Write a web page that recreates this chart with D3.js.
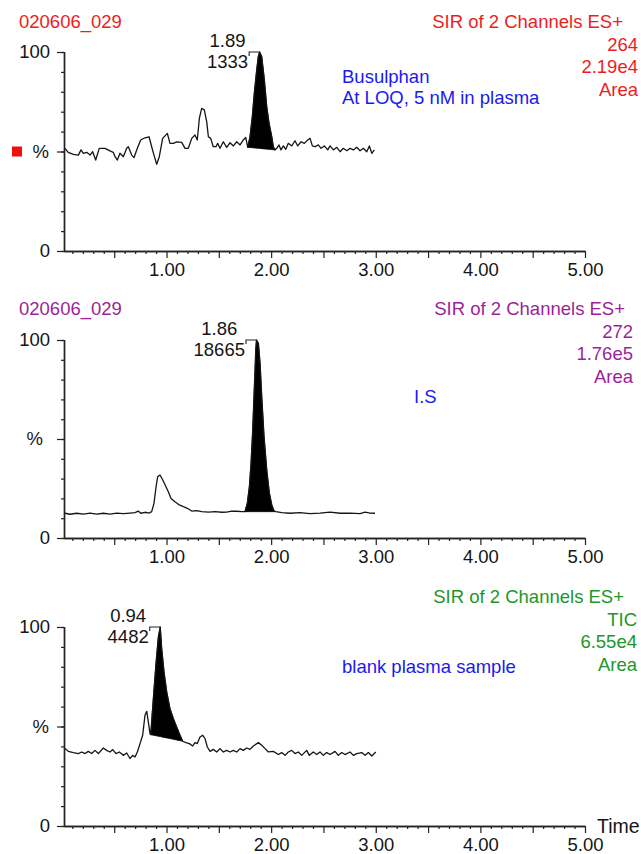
<!DOCTYPE html>
<html>
<head>
<meta charset="utf-8">
<script src="https://cdn.jsdelivr.net/npm/d3@7"></script>
<style>
  body { margin: 0; background: #fff; }
  svg { display: block; }
  text { font-family: "Liberation Sans", Arial, sans-serif; }
</style>
</head>
<body>
<svg id="chart" width="641" height="854"></svg>
<script>
// ---- Chromatogram traces: [retention time (min), relative intensity (%)] ----
const busulphanTrace = [
  [0.03,51.6],[0.06,49.6],[0.11,48.6],[0.157,48.2],[0.183,50.8],[0.205,49.1],[0.237,49.6],[0.269,48.2],
  [0.294,49.9],[0.323,45.7],[0.357,51.6],[0.412,51.6],[0.46,50.3],[0.491,49.6],[0.508,47.4],[0.53,45.7],
  [0.555,49.1],[0.587,47.4],[0.619,51.6],[0.635,52.4],[0.667,48.2],[0.689,46.9],[0.721,51.6],[0.753,55.8],
  [0.794,56.9],[0.833,57.4],[0.858,52.4],[0.88,48.2],[0.906,43.6],[0.931,47.4],[0.963,56.6],[1.008,59.1],
  [1.033,54.1],[1.065,54.1],[1.097,54.8],[1.145,54.6],[1.177,51.6],[1.208,51.6],[1.241,56.6],[1.272,58.3],
  [1.294,55.8],[1.314,66.7],[1.336,71.7],[1.361,70.9],[1.384,65.0],[1.4,57.4],[1.422,56.6],[1.447,52.4],
  [1.473,52.4],[1.489,54.1],[1.511,51.6],[1.543,54.9],[1.575,52.1],[1.607,54.4],[1.639,52.8],[1.671,54.9],
  [1.703,53.3],[1.734,55.8],[1.757,57.1],[1.776,52.1],[1.798,57.4],[1.82,67.5],[1.839,79.2],[1.862,91.0],
  [1.877,97.6],[1.89,100],[1.91,97.6],[1.935,86],[1.958,72.5],[1.98,64.2],[2.006,57.4],[2.021,52.4],
  [2.037,50.8],[2.053,51.6],[2.075,53.3],[2.094,50.8],[2.117,52.8],[2.14,51.1],[2.164,54.1],[2.197,52.8],
  [2.228,55.4],[2.254,52.8],[2.286,54.9],[2.317,54.1],[2.35,55.8],[2.372,56.6],[2.394,52.8],[2.42,52.4],
  [2.451,53.3],[2.477,51.6],[2.509,52.8],[2.541,50.8],[2.563,52.8],[2.595,50.8],[2.627,52.1],[2.659,49.9],
  [2.69,51.6],[2.723,50.4],[2.754,51.6],[2.786,50.8],[2.818,52.1],[2.85,50.4],[2.881,51.6],[2.914,49.9],
  [2.939,52.8],[2.962,49.1],[2.987,50.8]
];

const internalStdTrace = [
  [0.03,12.5],[0.077,12],[0.141,12.5],[0.205,12.1],[0.269,12.6],[0.333,12.1],[0.396,12.5],[0.46,12.1],
  [0.524,12.6],[0.587,12.3],[0.651,12.6],[0.699,12.8],[0.73,13.6],[0.753,12.5],[0.794,13],[0.836,12.6],
  [0.858,13.3],[0.88,17.5],[0.9,25.9],[0.916,31],[0.938,31.8],[0.964,29.3],[0.995,25.9],[1.017,23.4],
  [1.043,20],[1.081,18.3],[1.122,16.7],[1.161,15.8],[1.199,15],[1.241,13.6],[1.289,13.8],[1.336,13.3],
  [1.4,13.1],[1.464,13.3],[1.528,13],[1.575,13.1],[1.623,13.6],[1.671,13.5],[1.719,13.3],[1.75,13.3],
  [1.772,17.5],[1.792,25.9],[1.808,37.7],[1.824,54.5],[1.836,71.4],[1.846,84.8],[1.853,94.9],[1.86,100],
  [1.878,98.3],[1.894,88.2],[1.91,71.4],[1.932,51.2],[1.958,34.3],[1.983,22.6],[2.006,16.7],[2.028,13.6],
  [2.047,13.3],[2.101,12.8],[2.181,12.5],[2.276,12.8],[2.372,12.3],[2.467,12.6],[2.563,13.1],[2.659,12.5],
  [2.754,12.6],[2.85,12.3],[2.898,13.1],[2.945,12.6],[2.993,12.5]
];

const blankTrace = [
  [0.03,38.9],[0.061,37.5],[0.109,36.9],[0.157,36.4],[0.189,37.2],[0.221,36.4],[0.252,37.5],[0.285,36.4],
  [0.316,38],[0.348,36.4],[0.396,39.2],[0.428,38],[0.46,37.2],[0.486,38.4],[0.517,36.4],[0.549,37.2],
  [0.587,35.5],[0.619,36.7],[0.651,33.9],[0.677,35.5],[0.699,34.7],[0.721,37.2],[0.747,41.4],[0.772,45.6],
  [0.794,55.6],[0.811,57.6],[0.826,52.3],[0.842,46.4],[0.849,45.9],[0.874,64],[0.9,82],[0.922,95],
  [0.94,100],[0.954,89.1],[0.976,77.4],[1.002,67.3],[1.033,59],[1.065,54],[1.097,49.7],[1.129,45.6],
  [1.155,42.6],[1.186,41.9],[1.218,41.4],[1.25,40.2],[1.272,41.9],[1.294,41.4],[1.32,44.7],[1.346,45.6],
  [1.368,43.9],[1.39,39.7],[1.416,37.5],[1.447,38.5],[1.48,37.2],[1.511,38.9],[1.543,37.2],[1.575,38],
  [1.607,37.2],[1.639,38],[1.671,37.2],[1.703,38.9],[1.734,38],[1.767,39.2],[1.798,38.5],[1.83,40.2],
  [1.878,41.9],[1.91,40.6],[1.942,38.9],[1.973,37.2],[2.021,37.5],[2.069,35.9],[2.101,36.9],[2.133,35.5],
  [2.164,37.2],[2.197,38],[2.228,36.4],[2.26,37.2],[2.292,35.5],[2.34,38],[2.365,35.5],[2.403,37.2],
  [2.436,35.9],[2.467,37.2],[2.499,35.5],[2.531,36.9],[2.563,35.9],[2.611,37.5],[2.642,35.5],[2.675,36.9],
  [2.706,35.9],[2.754,37.2],[2.786,35.5],[2.818,36.4],[2.866,36.9],[2.898,35.5],[2.929,36.9],[2.962,35.2],
  [3.0,37.2]
];

// ---- Integrated peaks: [start time, end time] and apex annotation ----
const busulphanPeak = { range: [1.776, 2.037], apex: 1.89, labels: ["1.89", "1333"] };
const internalStdPeak = { range: [1.75, 2.047], apex: 1.86, labels: ["1.86", "18665"] };
const blankPeak = { range: [0.849, 1.155], apex: 0.94, labels: ["0.94", "4482"] };

// ---- Header texts ----
const sampleName = "020606_029";
const channelTitle = "SIR of 2 Channels ES+";
const busulphanInfo = ["264", "2.19e4", "Area"];
const internalStdInfo = ["272", "1.76e5", "Area"];
const blankInfo = ["TIC", "6.55e4", "Area"];
const busulphanNote = ["Busulphan", "At LOQ, 5 nM in plasma"];
const internalStdNote = ["I.S"];
const blankNote = ["blank plasma sample"];

// ---- Axis tick labels ----
const xTickLabels = ["1.00", "2.00", "3.00", "4.00", "5.00"];
const yTickLabels = ["0", "100"];

const FONT = 18.5;
const INK = "#151515";
const BLUE = "#1a1af0";

const panels = [
  { trace: busulphanTrace, peak: busulphanPeak, top: 52, bottom: 251, color: "#ee1c1c",
    sample: true, info: busulphanInfo, headerRight: 623, infoRight: 638, headerBase: 28,
    note: busulphanNote, noteX: 342, noteBase: 83, pctX: 49, marker: true },
  { trace: internalStdTrace, peak: internalStdPeak, top: 340, bottom: 538, color: "#9c1f98",
    sample: true, info: internalStdInfo, headerRight: 625, infoRight: 633, headerBase: 315,
    note: internalStdNote, noteX: 414, noteBase: 403, pctX: 43, marker: false },
  { trace: blankTrace, peak: blankPeak, top: 627, bottom: 826, color: "#22962a",
    sample: false, info: blankInfo, headerRight: 624, infoRight: 637, headerBase: 603,
    note: blankNote, noteX: 342, noteBase: 673, pctX: 49, marker: false }
];

const svg = d3.select("#chart");
const x = d3.scaleLinear().domain([0.02, 5.0]).range([64, 585]);

const minorTicks = d3.range(1, 51).map(i => i / 10).filter(v => Math.round(v * 10) % 5 !== 0);
const majorTicks = d3.range(1, 11).map(i => i / 2);

panels.forEach(p => {
  const y = d3.scaleLinear().domain([0, 100]).range([p.bottom, p.top]);
  const g = svg.append("g");

  // x axis: minor ticks every 0.1, longer ticks every 0.5, labels on whole minutes
  g.append("g").attr("transform", `translate(0,${p.bottom})`)
    .call(d3.axisBottom(x).tickValues(minorTicks).tickSize(3).tickSizeOuter(0).tickFormat(""))
    .call(a => a.select(".domain").remove());
  const xa = g.append("g").attr("transform", `translate(0,${p.bottom})`)
    .call(d3.axisBottom(x).tickValues(majorTicks).tickSize(7).tickSizeOuter(0).tickPadding(5)
      .tickFormat(v => Number.isInteger(v) ? xTickLabels[v - 1] : ""));

  // y axis: ticks every 10 %, long ticks at 0/50/100
  g.append("g").attr("transform", "translate(64,0)")
    .call(d3.axisLeft(y).tickValues(d3.range(0, 101, 10)).tickSize(3).tickSizeOuter(0).tickFormat(""))
    .call(a => a.select(".domain").remove());
  const ya = g.append("g").attr("transform", "translate(64,0)")
    .call(d3.axisLeft(y).tickValues([0, 50, 100]).tickSize(7).tickSizeOuter(0).tickPadding(7)
      .tickFormat(v => v === 0 ? yTickLabels[0] : v === 100 ? yTickLabels[1] : ""));

  [xa, ya].forEach(a => {
    a.selectAll("text").attr("font-size", FONT).attr("fill", INK)
      .attr("font-family", '"Liberation Sans", Arial, sans-serif');
    a.selectAll("line,path").attr("stroke", "#222").attr("stroke-width", 1.3);
  });
  g.selectAll(".tick line").attr("stroke", "#222").attr("stroke-width", 1.2);
  // axis lines
  g.append("line").attr("x1", x.range()[0]).attr("x2", x.range()[1])
    .attr("y1", p.bottom + 0.5).attr("y2", p.bottom + 0.5).attr("stroke", "#222").attr("stroke-width", 1.5);
  g.append("line").attr("x1", 64.5).attr("x2", 64.5)
    .attr("y1", p.top).attr("y2", p.bottom).attr("stroke", "#222").attr("stroke-width", 1.5);

  // "%" label at mid-height
  g.append("text").attr("x", p.pctX).attr("y", y(50)).attr("dy", "0.35em")
    .attr("text-anchor", "end").attr("font-size", FONT).attr("fill", INK).text("%");

  if (p.marker) {
    g.append("rect").attr("x", 12).attr("y", y(50) - 5).attr("width", 10).attr("height", 10)
      .attr("fill", "#ee1111");
  }

  // integrated peak fill between trace and the drawn baseline
  const [t0, t1] = p.peak.range;
  const v0 = p.trace.find(d => d[0] === t0)[1];
  const v1 = p.trace.find(d => d[0] === t1)[1];
  const base = t => v0 + (v1 - v0) * (t - t0) / (t1 - t0);
  const peakPts = p.trace.filter(d => d[0] >= t0 && d[0] <= t1);
  g.append("path").datum(peakPts)
    .attr("d", d3.area().x(d => x(d[0])).y0(d => y(base(d[0]))).y1(d => y(d[1])))
    .attr("fill", "#000").attr("stroke", "#000").attr("stroke-width", 0.8);

  // chromatogram trace
  g.append("path").datum(p.trace)
    .attr("d", d3.line().x(d => x(d[0])).y(d => y(d[1])))
    .attr("fill", "none").attr("stroke", "#151515").attr("stroke-width", 1.3)
    .attr("stroke-linejoin", "round");

  // apex annotation with leader
  const apex = p.trace.find(d => d[0] === p.peak.apex);
  const ax = x(apex[0]), ay = y(apex[1]);
  const leadL = ax - 10.5;
  g.append("path")
    .attr("d", `M${leadL},${ay + 4}V${ay}H${ax}`)
    .attr("fill", "none").attr("stroke", "#222").attr("stroke-width", 1.1);
  const lbl = g.append("g");
  const t1s = lbl.append("text").attr("y", ay - 5).text(p.peak.labels[0]);
  const t2s = lbl.append("text").attr("y", ay + 16).text(p.peak.labels[1]);
  lbl.selectAll("text").attr("font-size", FONT).attr("fill", INK).attr("text-anchor", "middle");
  const w = Math.max(t1s.node().getComputedTextLength(), t2s.node().getComputedTextLength());
  lbl.selectAll("text").attr("x", leadL - w / 2 - 1);

  // header texts
  if (p.sample) {
    g.append("text").attr("x", 19).attr("y", p.headerBase).attr("font-size", FONT)
      .attr("fill", p.color).text(sampleName);
  }
  g.append("text").attr("x", p.headerRight).attr("y", p.headerBase).attr("text-anchor", "end")
    .attr("font-size", FONT).attr("fill", p.color).text(channelTitle);
  p.info.forEach((s, i) => {
    g.append("text").attr("x", p.infoRight).attr("y", p.headerBase + 23 + i * 22.3)
      .attr("text-anchor", "end").attr("font-size", FONT).attr("fill", p.color).text(s);
  });
  p.note.forEach((s, i) => {
    g.append("text").attr("x", p.noteX).attr("y", p.noteBase + i * 21)
      .attr("font-size", FONT).attr("fill", BLUE).text(s);
  });
});

svg.append("text").attr("x", 597).attr("y", 833).attr("font-size", 19.5)
  .attr("fill", INK).text("Time");
</script>
</body>
</html>
